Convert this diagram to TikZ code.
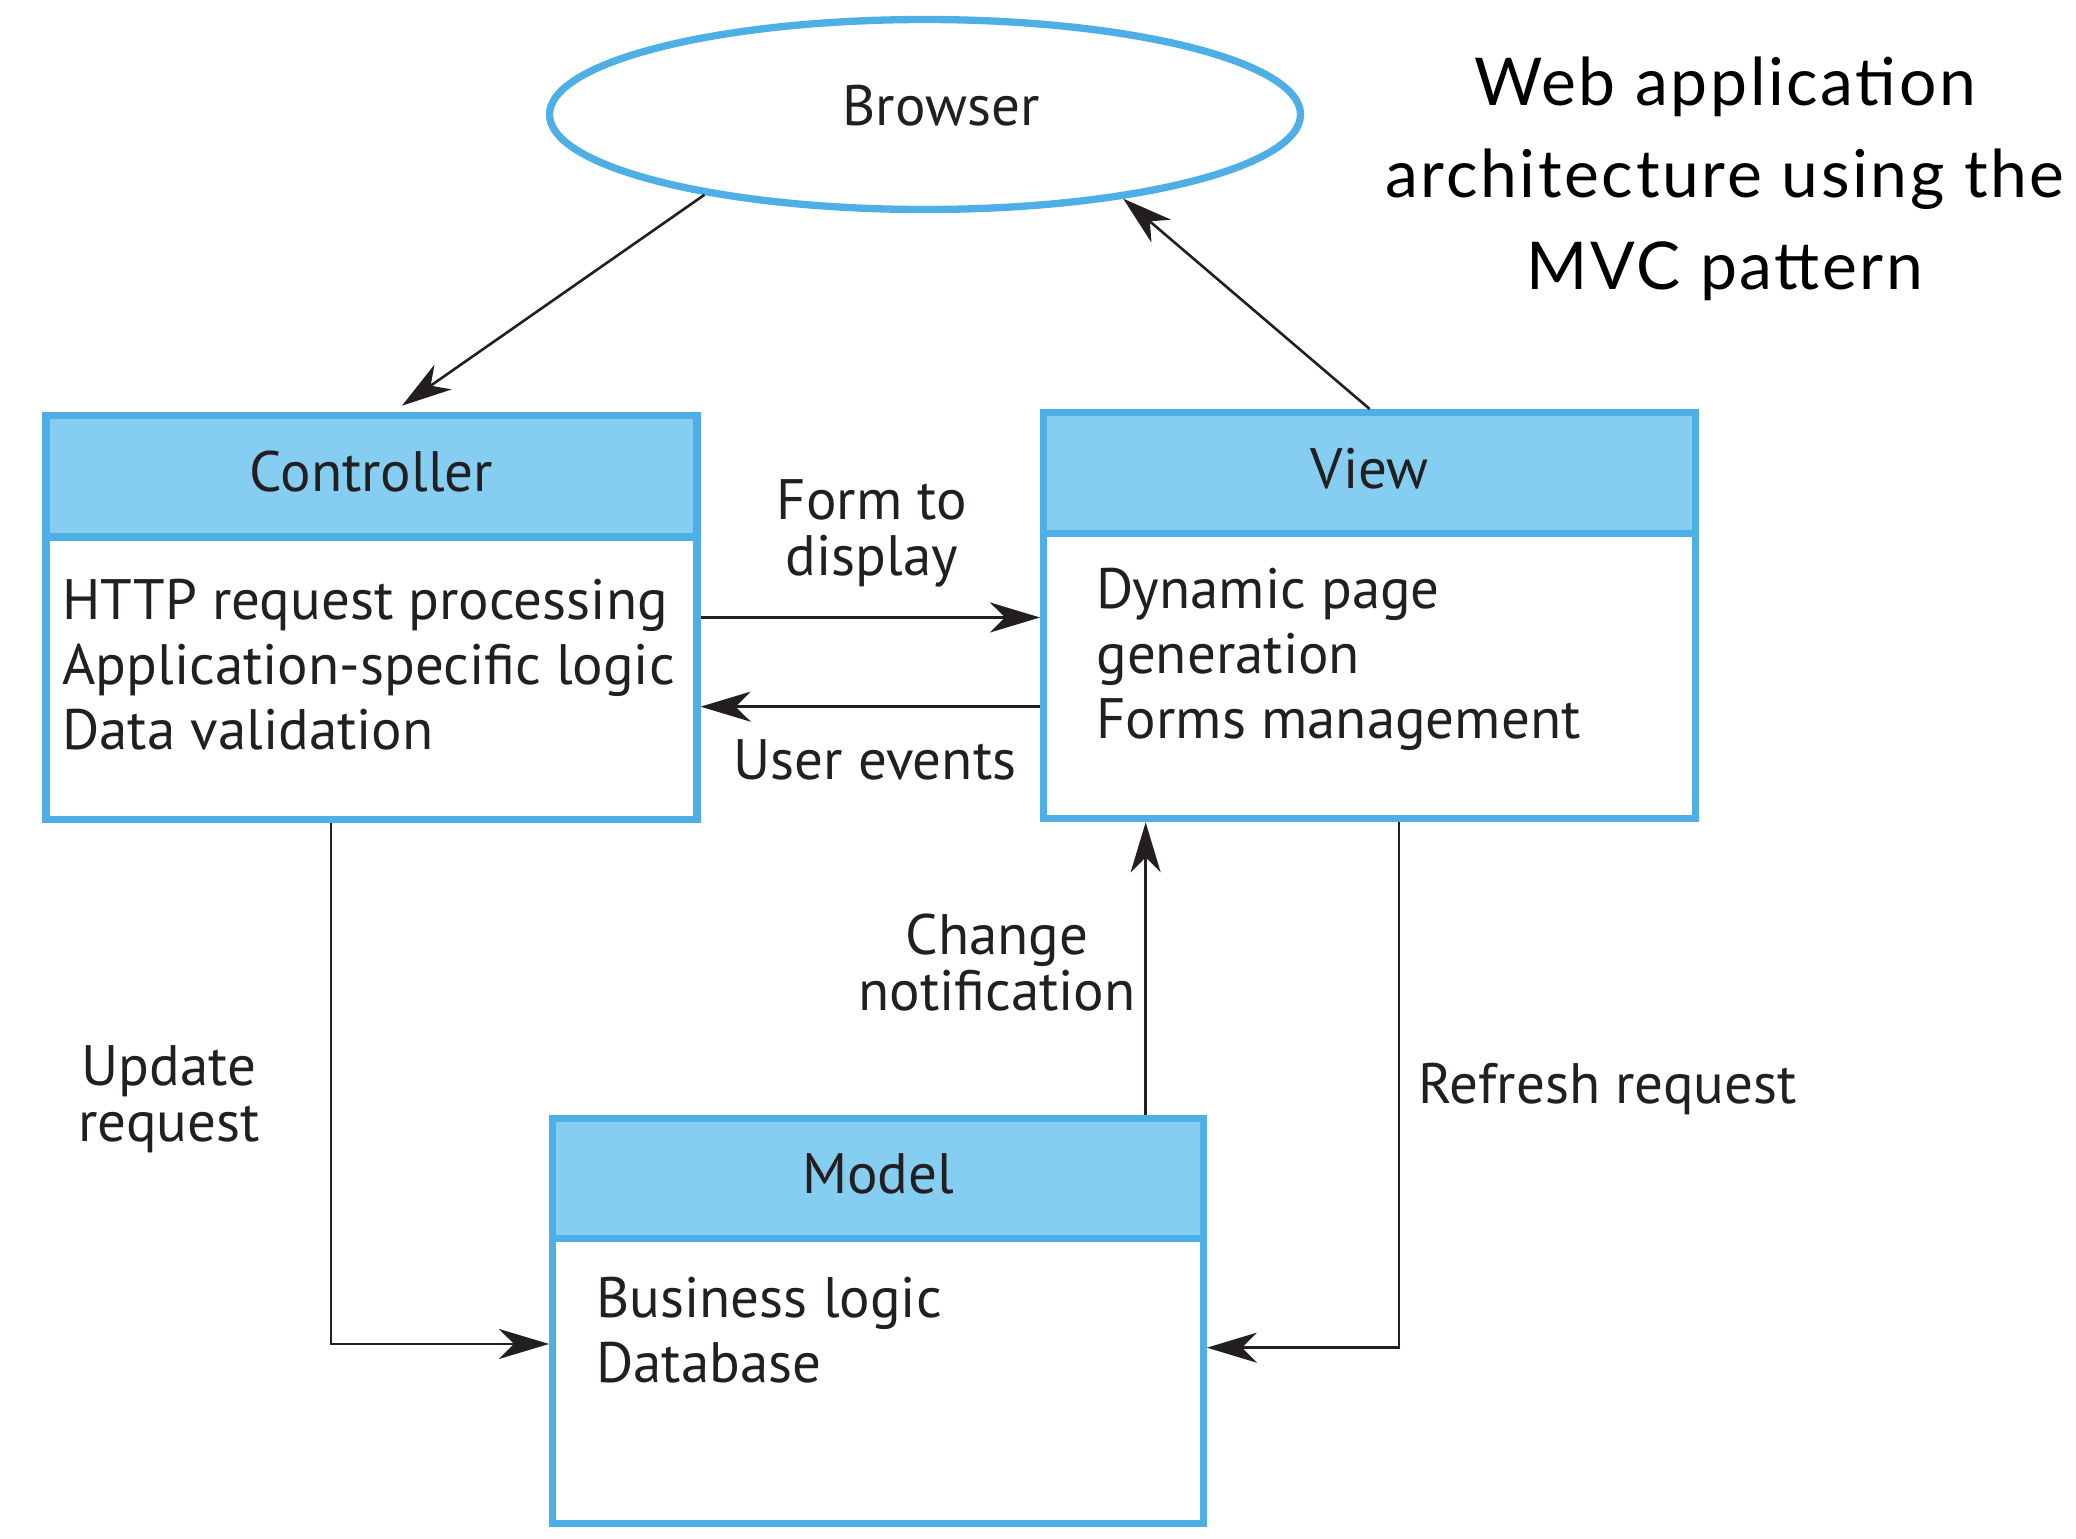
\documentclass[tikz,border=0pt]{standalone}
\usepackage{fontspec}
\setmainfont{PT Sans}
\newfontfamily\titlefont[LetterSpace=4]{Lato}
\usetikzlibrary{shapes.geometric,arrows.meta}
\definecolor{bord}{RGB}{77,175,230}
\definecolor{hdrfill}{RGB}{133,205,241}
\definecolor{ink}{RGB}{35,31,32}
\tikzset{
  boxbody/.style={draw=bord, line width=3.65pt, fill=white, minimum width=#1, anchor=north west, inner sep=0pt},
  boxhead/.style={draw=bord, line width=3.65pt, fill=hdrfill, minimum width=#1, anchor=north west, inner sep=0pt, text depth=5pt, text=ink, font=\fontsize{28.5}{32.6}\selectfont},
  bodytext/.style={anchor=base west, align=left, inner sep=0pt, text=ink, font=\fontsize{28.5}{32.6}\selectfont},
  lbl/.style={anchor=base, align=center, inner sep=0pt, text=ink, font=\fontsize{28.5}{28}\selectfont},
  conn/.style={draw=ink, line width=1.3pt, -{Stealth[length=25pt,width=15pt,inset=7.5pt]}},
}
\begin{document}
\begin{tikzpicture}[x=0.5pt,y=-0.5pt]
\useasboundingbox (0,0) rectangle (2076,1538);
\fill[white] (0,0) rectangle (2076,1538);

% Browser
\node[ellipse, draw=bord, line width=3.65pt, minimum width=375.5pt, minimum height=95pt, inner sep=0pt] (browser) at (925,114.5) {};
\node[lbl] (browsertxt) at (941,125) {Browser};

% Title (base anchor = baseline of the last line)
\node[anchor=base, align=center, inner sep=0pt, text=black, font=\titlefont\fontsize{33}{46}\selectfont] (title) at (1725,289)
  {Web application\\architecture using the\\MVC pattern};

% Controller
\node[boxbody=325.5pt, minimum height=202.1pt] (ctrl) at (42.3,411.7) {};
\node[boxhead=325.5pt, minimum height=60.75pt] (ctrlh) at (ctrl.north west) {Controller};
\node[bodytext] (ctrltxt) at (62,749.4) {HTTP request processing\\Application-specific logic\\Data validation};

% View
\node[boxbody=326pt, minimum height=203pt] (view) at (1040,409) {};
\node[boxhead=326pt, minimum height=60.3pt] (viewh) at (view.north west) {View};
\node[bodytext] (viewtxt) at (1096,738.4) {Dynamic page\\generation\\Forms management};

% Model
\node[boxbody=325.3pt, minimum height=202.7pt] (model) at (549,1114.6) {};
\node[boxhead=325.3pt, minimum height=60.2pt] (modelh) at (model.north west) {Model};
\node[bodytext] (modeltxt) at (596,1382.2) {Business logic\\Database};

% Connectors
\draw[conn] (browser.200.5) -- ([xshift=15.25pt,yshift=3pt]ctrl.north);
\draw[conn] (view.north) -- (browser.337.75);
\draw[conn] (ctrl.east) -- (ctrl.east -| view.west);
\draw[conn] ([yshift=-45.5pt]view.west) -- ([yshift=-45.5pt]view.west -| ctrl.east);
\draw[conn] ([xshift=133.85pt]model.north) -- ([xshift=133.85pt]model.north |- view.south);
\draw[conn] ([xshift=-20.25pt]ctrl.south) |- ([yshift=-11.5pt]model.west);
\draw[conn] ([xshift=14.65pt]view.south) |- ([yshift=-13.35pt]model.east);

% Labels (base anchor = baseline of the last line)
\node[lbl] (lform) at (872,575) {Form to\\display};
\node[lbl] (luser) at (875,779) {User events};
\node[lbl] (lchange) at (997,1010) {Change\\notification};
\node[lbl] (lupdate) at (169,1141) {Update\\request};
\node[lbl, anchor=base west] (lrefresh) at (1418,1103) {Refresh request};
\end{tikzpicture}
\end{document}
